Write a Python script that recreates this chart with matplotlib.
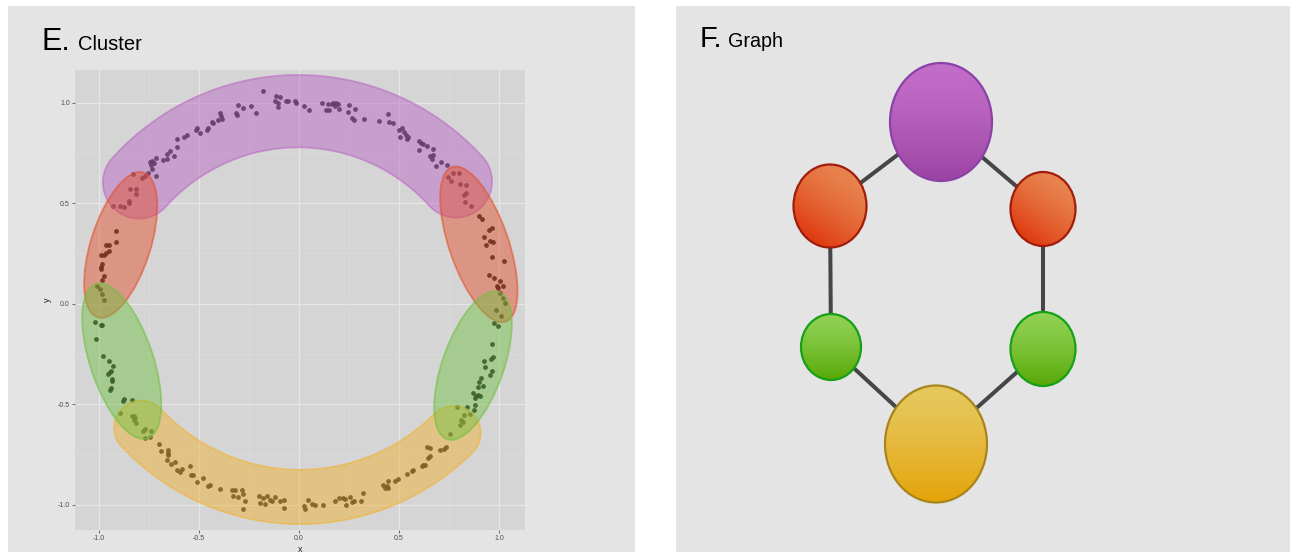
"""
Mapper-style illustration: clustered ring samples (E) and the resulting graph (F).
"""

import numpy as np
import matplotlib
matplotlib.use("Agg")
import matplotlib.pyplot as plt
from matplotlib.patches import Rectangle, Ellipse, Polygon
from matplotlib.colors import to_rgb

W, H = 1290, 552

# Ring samples ---------------------------------------------------------------
ring_xy = [
    # right side, upper
    (1.027, 0.003), (1.017, 0.027), (1.002, 0.053), (0.992, 0.078), (0.988, 0.090),
    (1.018, 0.086), (1.002, 0.114), (0.975, 0.128), (0.948, 0.144), (1.025, 0.214),
    (0.962, 0.232), (0.935, 0.290), (0.968, 0.307), (0.952, 0.310), (0.922, 0.332),
    (0.963, 0.375), (0.947, 0.368), (0.913, 0.421), (0.897, 0.434), (0.858, 0.484),
    (0.827, 0.506), (0.835, 0.551), (0.822, 0.542), (0.835, 0.592), (0.805, 0.597),
    (0.758, 0.609), (0.742, 0.630),
    # top arc
    (0.797, 0.650), (0.767, 0.650), (0.738, 0.687), (0.708, 0.703), (0.685, 0.683),
    (0.663, 0.720), (0.672, 0.741), (0.655, 0.733), (0.668, 0.769), (0.638, 0.786),
    (0.618, 0.796), (0.602, 0.763), (0.608, 0.799), (0.600, 0.811), (0.547, 0.829),
    (0.542, 0.821), (0.535, 0.841), (0.525, 0.852), (0.505, 0.828), (0.517, 0.874),
    (0.502, 0.866), (0.468, 0.899), (0.452, 0.904), (0.443, 0.944), (0.402, 0.910),
    (0.327, 0.917), (0.277, 0.914), (0.263, 0.925), (0.247, 0.955), (0.280, 0.968),
    (0.250, 0.988), (0.200, 0.968), (0.152, 0.962), (0.135, 0.962), (0.180, 0.983),
    (0.197, 0.992), (0.185, 1.000), (0.172, 0.997), (0.163, 0.992), (0.147, 0.992),
    (0.113, 0.997), (0.052, 0.962), (0.025, 0.983), (-0.015, 1.000), (-0.020, 1.010),
    (-0.053, 1.008), (-0.067, 1.008), (-0.107, 0.977), (-0.103, 1.000), (-0.120, 1.010),
    (-0.095, 1.030), (-0.115, 1.033), (-0.178, 1.058), (-0.217, 0.947), (-0.242, 0.985),
    (-0.282, 0.975), (-0.303, 0.988), (-0.308, 0.940), (-0.315, 0.947), (-0.387, 0.920),
    (-0.392, 0.935), (-0.395, 0.949), (-0.403, 0.912), (-0.428, 0.900), (-0.437, 0.904),
    (-0.453, 0.874), (-0.458, 0.866), (-0.495, 0.849), (-0.512, 0.874), (-0.517, 0.866),
    (-0.560, 0.838), (-0.573, 0.829), (-0.612, 0.821), (-0.612, 0.779), (-0.623, 0.736),
    (-0.645, 0.758), (-0.662, 0.746), (-0.658, 0.720), (-0.678, 0.716), (-0.715, 0.725),
    (-0.732, 0.708), (-0.725, 0.700), (-0.745, 0.703), (-0.740, 0.690), (-0.732, 0.670),
    (-0.712, 0.637), (-0.753, 0.650), (-0.770, 0.637), (-0.782, 0.625), (-0.828, 0.647),
    # left side, upper
    (-0.845, 0.570), (-0.815, 0.570), (-0.815, 0.544), (-0.850, 0.509), (-0.848, 0.501),
    (-0.873, 0.481), (-0.895, 0.488), (-0.928, 0.484), (-0.912, 0.360), (-0.912, 0.305),
    (-0.962, 0.294), (-0.950, 0.290), (-0.950, 0.264), (-0.962, 0.252), (-0.975, 0.244),
    (-0.987, 0.244), (-0.982, 0.199), (-0.987, 0.182), (-0.987, 0.172), (-0.975, 0.139),
    (-0.982, 0.119), (-1.008, 0.086), (-0.992, 0.073), (-0.982, 0.048), (-0.975, 0.017),
    # left side, lower
    (-1.017, -0.093), (-0.990, -0.104), (-0.982, -0.108), (-1.012, -0.174), (-0.978, -0.262),
    (-0.950, -0.287), (-0.928, -0.312), (-0.940, -0.333), (-0.945, -0.342), (-0.952, -0.348),
    (-0.932, -0.373), (-0.935, -0.383), (-0.940, -0.421), (-0.945, -0.431), (-0.873, -0.474),
    (-0.878, -0.486), (-0.833, -0.481),
    # bottom arc
    (-0.895, -0.544), (-0.833, -0.557), (-0.823, -0.561), (-0.817, -0.569), (-0.825, -0.577),
    (-0.815, -0.594), (-0.770, -0.624), (-0.778, -0.635), (-0.737, -0.635), (-0.742, -0.663),
    (-0.770, -0.670), (-0.700, -0.698), (-0.690, -0.735), (-0.657, -0.726), (-0.653, -0.743),
    (-0.653, -0.755), (-0.658, -0.776), (-0.620, -0.788), (-0.642, -0.796), (-0.612, -0.826),
    (-0.587, -0.821), (-0.595, -0.839), (-0.545, -0.809), (-0.540, -0.851), (-0.528, -0.854),
    (-0.482, -0.867), (-0.512, -0.887), (-0.445, -0.900), (-0.457, -0.905), (-0.395, -0.922),
    (-0.337, -0.929), (-0.320, -0.929), (-0.328, -0.958), (-0.303, -0.963), (-0.287, -0.929),
    (-0.278, -0.947), (-0.270, -0.983), (-0.282, -1.022), (-0.198, -0.958), (-0.195, -0.992),
    (-0.178, -0.968), (-0.170, -0.997), (-0.158, -0.955), (-0.145, -0.975), (-0.137, -0.983),
    (-0.120, -0.964), (-0.095, -0.983), (-0.073, -0.975), (-0.073, -1.017), (0.025, -1.005),
    (0.030, -1.022), (0.047, -0.975), (0.063, -0.997), (0.080, -1.000), (0.122, -1.002),
    (0.180, -0.980), (0.202, -0.967), (0.218, -0.967), (0.230, -0.972), (0.235, -1.000),
    (0.255, -0.964), (0.263, -0.987), (0.275, -0.983), (0.310, -0.980), (0.318, -0.942),
    (0.422, -0.900), (0.430, -0.917), (0.447, -0.917), (0.438, -0.905), (0.447, -0.881),
    (0.480, -0.884), (0.493, -0.872), (0.538, -0.846), (0.567, -0.834), (0.572, -0.829),
    (0.613, -0.809), (0.622, -0.804), (0.630, -0.801), (0.643, -0.768), (0.655, -0.760),
    (0.655, -0.718), (0.638, -0.715), (0.733, -0.715), (0.722, -0.723), (0.705, -0.730),
    (0.752, -0.648),
    # right side, lower
    (0.805, -0.602), (0.818, -0.590), (0.808, -0.580), (0.852, -0.549), (0.822, -0.552),
    (0.872, -0.527), (0.877, -0.504), (0.838, -0.514), (0.788, -0.514), (0.877, -0.469),
    (0.902, -0.458), (0.893, -0.453), (0.885, -0.461), (0.868, -0.444), (0.892, -0.415),
    (0.917, -0.408), (0.897, -0.391), (0.910, -0.370), (0.955, -0.353), (0.963, -0.337),
    (0.927, -0.315), (0.925, -0.287), (0.968, -0.267), (0.960, -0.274), (0.963, -0.201),
    (0.992, -0.109), (0.975, -0.096), (1.010, -0.063), (0.985, -0.033),
]

# Cover of the angle filter: one interval (degrees) per cluster
cluster_names = ["purple", "red_left", "green_left", "yellow", "green_right", "red_right"]
cover_start = [37.0, 143.0, 178.5, 217.5, 320.5, 358.5]
cover_end = [143.5, 179.5, 217.5, 321.0, 358.8, 37.5]

# Graph: node layout in panel pixels, node sizes, edges between clusters
node_x = [265, 154, 155, 260, 367, 367]
node_y = [116, 200, 341, 438, 343, 203]
node_w = [102, 73, 60, 102, 65, 65]
node_h = [118, 83, 66, 117, 74, 74]
edges = [(0, 1), (1, 2), (2, 3), (3, 4), (4, 5), (5, 0)]

# Styles ---------------------------------------------------------------------
hull_kind = {"purple": "band", "yellow": "band"}
hull_fill = {"purple": "#bb6bc5", "red_left": "#e3502e", "green_left": "#70c040",
             "yellow": "#efb339", "green_right": "#70c040", "red_right": "#e3502e"}
hull_alpha = {"purple": 0.5, "yellow": 0.5, "red_left": 0.48, "red_right": 0.48,
              "green_left": 0.46, "green_right": 0.46}
hull_zorder = {"purple": 3.0, "yellow": 3.1, "red_left": 3.2, "red_right": 3.2,
               "green_left": 3.3, "green_right": 3.3}
band_width = {"purple": 0.18, "yellow": 0.135}
band_shift = {"purple": 0.045, "yellow": 0.04}
BAND_EXT = np.radians(1.0)
ELL_PAD = (0.09, 0.10)
ELL_SHIFT = 0.045

node_top = {"purple": "#c26ec8", "red_left": "#e8844f", "green_left": "#8fd152",
            "yellow": "#e6c75d", "green_right": "#8fd152", "red_right": "#e8844f"}
node_bot = {"purple": "#9b43a3", "red_left": "#df3a10", "green_left": "#56a806",
            "yellow": "#e5a307", "green_right": "#56a806", "red_right": "#df3a10"}
node_edge = {"purple": "#8a42a6", "red_left": "#a01d0c", "green_left": "#16a018",
             "yellow": "#a8851c", "green_right": "#16a018", "red_right": "#a01d0c"}

plt.rcParams["font.family"] = ["Liberation Sans", "DejaVu Sans"]


def band_patch(px, py, w, shift, **kw):
    # thick arc following the cluster, pulled slightly inward in the middle
    th = np.radians(np.mod(np.degrees(np.arctan2(py, px)), 360))
    r = np.hypot(px, py)
    coef = np.polyfit(th, r, 2)
    t = np.linspace(th.min() - BAND_EXT, th.max() + BAND_EXT, 240)
    s = np.linspace(-1, 1, t.size)
    rc = np.polyval(coef, t) - shift * (1 - s ** 2)
    cx, cy = rc * np.cos(t), rc * np.sin(t)
    tx, ty = np.gradient(cx), np.gradient(cy)
    L = np.hypot(tx, ty)
    nx, ny = -ty / L, tx / L
    inner = np.column_stack([cx + w * nx, cy + w * ny])
    outer = np.column_stack([cx - w * nx, cy - w * ny])
    a = np.linspace(0, np.pi, 40)
    pe = np.arctan2(ny[-1], nx[-1])
    cap_end = np.column_stack([cx[-1] + w * np.cos(pe - a), cy[-1] + w * np.sin(pe - a)])
    ps = np.arctan2(-ny[0], -nx[0])
    cap_start = np.column_stack([cx[0] + w * np.cos(ps - a), cy[0] + w * np.sin(ps - a)])
    return Polygon(np.vstack([inner, cap_end, outer[::-1], cap_start]), closed=True, **kw)


def ellipse_patch(px, py, **kw):
    # bounding ellipse along the cluster's principal axes, padded
    P = np.column_stack([px, py])
    m = P.mean(axis=0)
    _, vecs = np.linalg.eigh(np.cov((P - m).T))
    major, minor = vecs[:, 1], vecs[:, 0]
    u, v = (P - m) @ major, (P - m) @ minor
    c = m + major * (u.max() + u.min()) / 2 + minor * (v.max() + v.min()) / 2
    c = c * (1 - ELL_SHIFT / np.hypot(*c))
    a = (u.max() - u.min()) / 2 + ELL_PAD[0]
    b = (v.max() - v.min()) / 2 + ELL_PAD[1]
    ang = np.degrees(np.arctan2(major[1], major[0]))
    return Ellipse(c, 2 * a, 2 * b, angle=ang, **kw)


def gradient_node(ax, x, y, w, h, top, bot, edge, diagonal=False):
    n = 96
    gx, gy = np.meshgrid(np.linspace(-1, 1, n), np.linspace(-1, 1, n))
    if diagonal:
        t = np.clip((-0.55 * gx + 0.85 * gy + 1.0) / 2.0, 0, 1)
    else:
        t = (gy + 1) / 2
    t = t ** 1.4
    c0, c1 = np.array(to_rgb(top)), np.array(to_rgb(bot))
    img = c0[None, None, :] * (1 - t[..., None]) + c1[None, None, :] * t[..., None]
    clip = Ellipse((x, y), w, h, fc="none", ec="none")
    ax.add_patch(clip)
    im = ax.imshow(img, extent=(x - w / 2, x + w / 2, y + h / 2, y - h / 2),
                   origin="upper", aspect="auto", zorder=2, interpolation="bilinear")
    im.set_clip_path(clip)
    ax.add_patch(Ellipse((x, y), w, h, fc="none", ec=edge, lw=1.6, zorder=3))


def main():
    pts = np.array(ring_xy)
    ang = np.mod(np.degrees(np.arctan2(pts[:, 1], pts[:, 0])), 360)

    fig = plt.figure(figsize=(W / 100, H / 100), dpi=100)
    fig.patch.set_facecolor("white")

    bg = fig.add_axes([0, 0, 1, 1])
    bg.set_xlim(0, W)
    bg.set_ylim(H, 0)
    bg.axis("off")
    bg.add_patch(Rectangle((8, 6), 627, H, fc="#e4e4e4", ec="none"))
    bg.add_patch(Rectangle((676, 6), W - 676, H, fc="#e4e4e4", ec="none"))
    bg.text(41, 50, "E.", fontsize=22, va="baseline")
    bg.text(78, 50, "Cluster", fontsize=14.5, va="baseline")
    bg.text(700, 47, "F.", fontsize=21, va="baseline")
    bg.text(728, 47, "Graph", fontsize=14.2, va="baseline")

    # E. cluster panel ----------------------------------------------------------
    ax = fig.add_axes([75 / W, 22 / H, 450 / W, 460 / H])
    ax.set_facecolor("#d5d5d5")
    xr = pts[:, 0].max() - pts[:, 0].min()
    yr = pts[:, 1].max() - pts[:, 1].min()
    ax.set_xlim(pts[:, 0].min() - 0.05 * xr, pts[:, 0].max() + 0.05 * xr)
    ax.set_ylim(pts[:, 1].min() - 0.05 * yr, pts[:, 1].max() + 0.05 * yr)

    ticks = [-1.0, -0.5, 0.0, 0.5, 1.0]
    labels = ["-1.0", "-0.5", "0.0", "0.5", "1.0"]
    ax.set_xticks(ticks)
    ax.set_xticklabels(labels)
    ax.set_yticks(ticks)
    ax.set_yticklabels(labels)
    ax.set_xticks([-0.75, -0.25, 0.25, 0.75], minor=True)
    ax.set_yticks([-0.75, -0.25, 0.25, 0.75], minor=True)
    ax.grid(which="major", color="#e6e6e6", lw=0.9)
    ax.grid(which="minor", color="#dddddd", lw=0.5)
    ax.set_axisbelow(True)
    ax.tick_params(which="minor", length=0)
    ax.tick_params(which="major", length=2.2, width=0.6, color="#555555",
                   labelsize=5, labelcolor="#4d4d4d", pad=1.5)
    for s in ax.spines.values():
        s.set_visible(False)
    ax.set_xlabel("x", fontsize=6.5, labelpad=2, color="#222222")
    ax.set_ylabel("y", fontsize=6.5, labelpad=4, color="#222222")

    ax.scatter(pts[:, 0], pts[:, 1], s=12, color="#111111", alpha=0.9,
               linewidths=0, zorder=2)

    for i, name in enumerate(cluster_names):
        span = (cover_end[i] - cover_start[i]) % 360
        mask = np.mod(ang - cover_start[i], 360) <= span
        cx, cy = pts[mask, 0], pts[mask, 1]
        fill = to_rgb(hull_fill[name])
        kw = dict(fc=(*fill, hull_alpha[name]), ec=(*fill, 0.6), lw=1.3,
                  zorder=hull_zorder[name])
        if hull_kind.get(name) == "band":
            patch = band_patch(cx, cy, band_width[name], band_shift[name], **kw)
        else:
            patch = ellipse_patch(cx, cy, **kw)
        ax.add_patch(patch)

    # F. graph panel ------------------------------------------------------------
    axg = fig.add_axes([676 / W, 0, (W - 676) / W, (H - 6) / H])
    axg.axis("off")
    for a, b in edges:
        axg.plot([node_x[a], node_x[b]], [node_y[a], node_y[b]],
                 color="#464646", lw=2.9, solid_capstyle="butt", zorder=1)
    for i, name in enumerate(cluster_names):
        gradient_node(axg, node_x[i], node_y[i], node_w[i], node_h[i],
                      node_top[name], node_bot[name], node_edge[name],
                      diagonal=name.startswith("red"))
    axg.set_xlim(0, W - 676)
    axg.set_ylim(H - 6, 0)

    fig.savefig("out.png", dpi=100, facecolor=fig.get_facecolor())


if __name__ == "__main__":
    main()
